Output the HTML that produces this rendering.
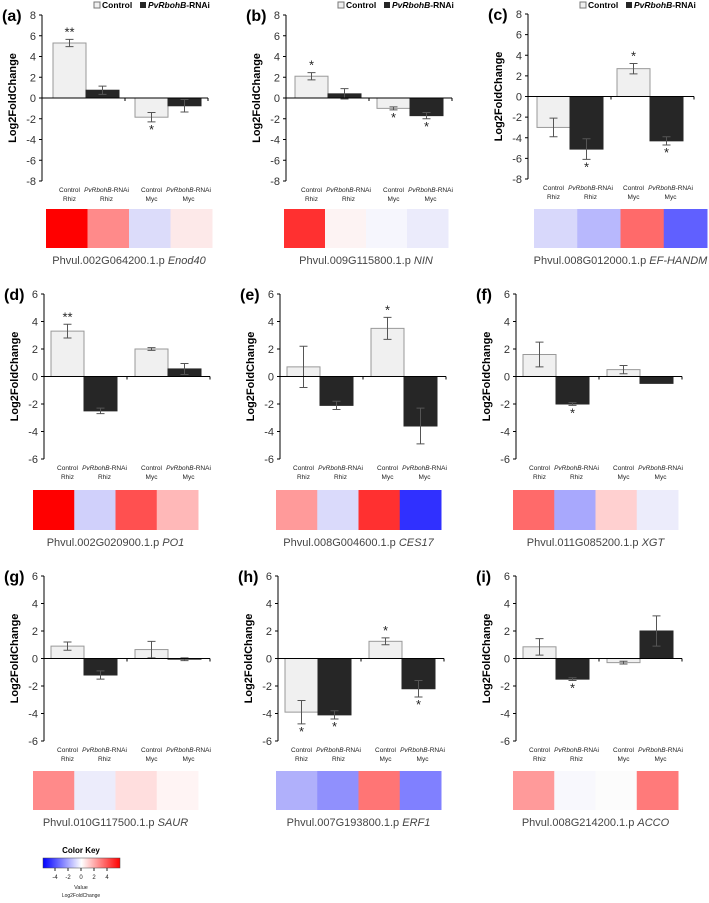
<!DOCTYPE html>
<html><head><meta charset="utf-8">
<style>
body{margin:0;background:#fff;width:709px;height:903px;overflow:hidden;font-family:"Liberation Sans",Arial,sans-serif}
svg{display:block}
</style></head>
<body>
<svg id="fig" width="709" height="903" viewBox="0 0 709 903" xmlns="http://www.w3.org/2000/svg" font-family="Liberation Sans, Arial, sans-serif">
<defs>
<linearGradient id="ck" x1="0" x2="1" y1="0" y2="0">
<stop offset="0" stop-color="#0000ff"/><stop offset="0.5" stop-color="#ffffff"/><stop offset="1" stop-color="#ff0000"/>
</linearGradient>
</defs>
<g id="root"></g>
<g>
<text x="81" y="853" font-size="8" font-weight="bold" text-anchor="middle">Color Key</text>
<rect x="43" y="858" width="77" height="10" fill="url(#ck)" stroke="#444" stroke-width="0.5"/>
<g font-size="6" text-anchor="middle" fill="#222">
<line x1="55" y1="868" x2="55" y2="871" stroke="#222"/><text x="55" y="879">-4</text>
<line x1="68" y1="868" x2="68" y2="871" stroke="#222"/><text x="68" y="879">-2</text>
<line x1="81" y1="868" x2="81" y2="871" stroke="#222"/><text x="81" y="879">0</text>
<line x1="94" y1="868" x2="94" y2="871" stroke="#222"/><text x="94" y="879">2</text>
<line x1="107" y1="868" x2="107" y2="871" stroke="#222"/><text x="107" y="879">4</text>
<text x="81" y="889" font-size="5.5">Value</text>
<text x="81" y="897" font-size="5">Log2FoldChange</text>
</g>
</g>
</svg>
<script>
const NS="http://www.w3.org/2000/svg";
const panelIds=["a","b","c","d","e","f","g","h","i"];
const categoriesTop=["Control","PvRbohB-RNAi","Control","PvRbohB-RNAi"];
const categoriesBottom=["Rhiz","Rhiz","Myc","Myc"];
const ticksRow1=[8,6,4,2,0,-2,-4,-6,-8];
const ticksRow23=[6,4,2,0,-2,-4,-6];
const valuesA=[5.3,0.75,-1.85,-0.75]; const errA=[0.35,0.4,0.45,0.6]; const starA=["**","","*",""];
const valuesB=[2.1,0.4,-1.0,-1.7]; const errB=[0.35,0.5,0.15,0.3]; const starB=["*","","*","*"];
const valuesC=[-3.0,-5.1,2.7,-4.3]; const errC=[0.9,1.0,0.5,0.4]; const starC=["","*","*","*"];
const valuesD=[3.3,-2.5,2.0,0.55]; const errD=[0.5,0.2,0.1,0.4]; const starD=["**","","",""];
const valuesE=[0.7,-2.1,3.5,-3.6]; const errE=[1.5,0.3,0.8,1.3]; const starE=["","","*",""];
const valuesF=[1.6,-2.0,0.5,-0.5]; const errF=[0.9,0.1,0.3,0]; const starF=["","*","",""];
const valuesG=[0.9,-1.2,0.65,-0.05]; const errG=[0.3,0.3,0.6,0.1]; const starG=["","","",""];
const valuesH=[-3.9,-4.1,1.25,-2.2]; const errH=[0.85,0.3,0.25,0.6]; const starH=["*","*","*","*"];
const valuesI=[0.85,-1.5,-0.3,2.0]; const errI=[0.6,0.1,0.1,1.1]; const starI=["","*","",""];
const heatA=["#ff0000","#ff8a8a","#dcdcfa","#fde9e9"];
const heatB=["#ff3030","#fdf3f3","#f6f6fd","#ebebfb"];
const heatC=["#d8d8fb","#b8b8fd","#ff6a6a","#6060ff"];
const heatD=["#ff0000","#d0d0fb","#ff5050","#ffb8b8"];
const heatE=["#ff9a9a","#dadafb","#ff3030","#3030ff"];
const heatF=["#ff6a6a","#a8a8fd","#ffd0d0","#ececfb"];
const heatG=["#ff8a8a","#ececfb","#ffdede","#fff4f4"];
const heatH=["#b0b0fb","#9090fd","#ff7575","#8080ff"];
const heatI=["#ff9a9a","#f8f8fd","#fcfcfc","#ff7a7a"];
const geneIds=["Phvul.002G064200.1.p","Phvul.009G115800.1.p","Phvul.008G012000.1.p","Phvul.002G020900.1.p","Phvul.008G004600.1.p","Phvul.011G085200.1.p","Phvul.010G117500.1.p","Phvul.007G193800.1.p","Phvul.008G214200.1.p"];
const geneNames=["Enod40","NIN","EF-HANDM","PO1","CES17","XGT","SAUR","ERF1","ACCO"];
const allVals=[valuesA,valuesB,valuesC,valuesD,valuesE,valuesF,valuesG,valuesH,valuesI];
const allErr=[errA,errB,errC,errD,errE,errF,errG,errH,errI];
const allStar=[starA,starB,starC,starD,starE,starF,starG,starH,starI];
const allHeat=[heatA,heatB,heatC,heatD,heatE,heatF,heatG,heatH,heatI];

// layout (not data)
const layout=[
 {ax:42,b0:53,g2:82,top:15,bot:181,hx1:46,hx2:212,hy:209,hh:39,row:0},
 {ax:286,b0:295,g2:82,top:15,bot:181,hx1:284,hx2:448,hy:209,hh:39,row:0},
 {ax:528,b0:537,g2:80,top:14,bot:179,hx1:534,hx2:707,hy:209,hh:39,row:0},
 {ax:44,b0:51,g2:84,top:294,bot:459,hx1:33,hx2:198,hy:490,hh:40,row:1},
 {ax:280,b0:287,g2:84,top:294,bot:459,hx1:276,hx2:441,hy:490,hh:40,row:1},
 {ax:516,b0:523,g2:84,top:294,bot:459,hx1:513,hx2:678,hy:490,hh:40,row:1},
 {ax:44,b0:51,g2:84,top:576,bot:741,hx1:33,hx2:198,hy:771,hh:39,row:2},
 {ax:278,b0:285,g2:84,top:576,bot:741,hx1:276,hx2:441,hy:771,hh:39,row:2},
 {ax:516,b0:523,g2:84,top:576,bot:741,hx1:513,hx2:678,hy:771,hh:39,row:2}
];
const root=document.getElementById("root");
function mk(tag,attrs,parent,text){const e=document.createElementNS(NS,tag);for(const k in attrs)e.setAttribute(k,attrs[k]);if(text!==undefined)e.textContent=text;parent.appendChild(e);return e;}

panelIds.forEach((pid,pi)=>{
 const L=layout[pi];
 const ticks=L.row===0?ticksRow1:ticksRow23;
 const ymax=ticks[0],ymin=ticks[ticks.length-1];
 const y=v=>L.top+(ymax-v)/(ymax-ymin)*(L.bot-L.top);
 const bw=33;
 const bx=i=>L.b0+(i>=2?L.g2:0)+(i%2)*bw;
 const g=mk("g",{},root);
 
 
 const lab=mk("text",{x:L.ax-40,y:L.top+6,"font-size":"16","font-weight":"bold"},g,"("+pid+")");
 
 
 const axl=mk("line",{x1:L.ax,y1:L.top,x2:L.ax,y2:L.bot,stroke:"#000","stroke-width":1},g);
 
 
 ticks.forEach(t=>{
  mk("line",{x1:L.ax-3,y1:y(t),x2:L.ax,y2:y(t),stroke:"#000"},g);
  const tl=mk("text",{x:L.ax-6,y:y(t)+4,"font-size":"11","text-anchor":"end",fill:"#333"},g,String(t));
  
  
 });
 const yt=mk("text",{x:0,y:0,"font-size":"11","font-weight":"bold","text-anchor":"middle",transform:"translate("+(L.ax-26)+","+((L.top+L.bot)/2)+") rotate(-90)"},g,"Log2FoldChange");
 
 
 const vals=allVals[pi],errs=allErr[pi],stars=allStar[pi];
 vals.forEach((v,i)=>{
  const x=bx(i);const y0=y(0),yv=y(v);
  const r=mk("rect",{x:x,y:Math.min(y0,yv),width:bw,height:Math.abs(yv-y0),fill:i%2===0?"#f0f0f0":"#262626",stroke:i%2===0?"#999":"#262626","stroke-width":1},g);
  
  
  const cx=x+bw/2;
  if(errs[i]>0){
   const eb=mk("path",{d:"M"+(cx-4)+","+y(v+errs[i])+"H"+(cx+4)+"M"+cx+","+y(v+errs[i])+"V"+y(v-errs[i])+"M"+(cx-4)+","+y(v-errs[i])+"H"+(cx+4),stroke:"#555",fill:"none","stroke-width":1},g);
   
   
  }
  if(stars[i]){
   const sy=v>=0?y(v+errs[i])-3:y(v-errs[i])+12;
   const st=mk("text",{x:cx,y:sy,"font-size":"13","text-anchor":"middle",fill:"#222"},g,stars[i]);
   
   
  }
 });
 const zl=mk("line",{x1:L.ax,y1:y(0),x2:L.ax+166,y2:y(0),stroke:"#000","stroke-width":1},g);
 
 
 mk("line",{x1:L.ax+83,y1:y(0),x2:L.ax+83,y2:y(0)+3,stroke:"#000"},g);
 mk("line",{x1:L.ax+166,y1:y(0),x2:L.ax+166,y2:y(0)+3,stroke:"#000"},g);
 const cy=L.bot+11;
 categoriesTop.forEach((c,i)=>{
  const cx=bx(i)+bw/2+(i%2?4:0);
  const t=mk("text",{x:cx,y:cy,"font-size":"6.5","text-anchor":"middle",fill:"#222"},g);
  
  
  if(c.indexOf("PvRbohB")===0){mk("tspan",{"font-style":"italic"},t,"PvRbohB");mk("tspan",{},t,"-RNAi");}
  else t.textContent=c;
  mk("text",{x:cx,y:cy+9,"font-size":"6.5","text-anchor":"middle",fill:"#222"},g,categoriesBottom[i]);
 });
 const hc=allHeat[pi];const cw=(L.hx2-L.hx1)/4;
 hc.forEach((col,i)=>{
  const hr=mk("rect",{x:L.hx1+i*cw,y:L.hy,width:cw+0.5,height:L.hh,fill:col},g);
  
  
 });
 const gl=mk("text",{x:(L.hx1+L.hx2)/2,y:L.hy+L.hh+16,"font-size":"11","text-anchor":"middle",fill:"#444"},g);
 
 
 gl.setAttribute("xml:space","preserve");
 mk("tspan",{},gl,geneIds[pi]+"   ");
 mk("tspan",{"font-style":"italic"},gl,geneNames[pi]);
 if(L.row===0){
  const lg=mk("g",{},g);
  
  
  const lx=L.ax+52;
  mk("rect",{x:lx,y:2,width:6,height:6,fill:"#f0f0f0",stroke:"#777"},lg);
  mk("text",{x:lx+8,y:8,"font-size":"8.5","font-weight":"bold"},lg,"Control");
  mk("rect",{x:lx+46,y:2,width:6,height:6,fill:"#262626"},lg);
  const t2=mk("text",{x:lx+54,y:8,"font-size":"8.5","font-weight":"bold"},lg);
  mk("tspan",{"font-style":"italic"},t2,"PvRbohB");mk("tspan",{},t2,"-RNAi");
 }
});
</script>
</body></html>
